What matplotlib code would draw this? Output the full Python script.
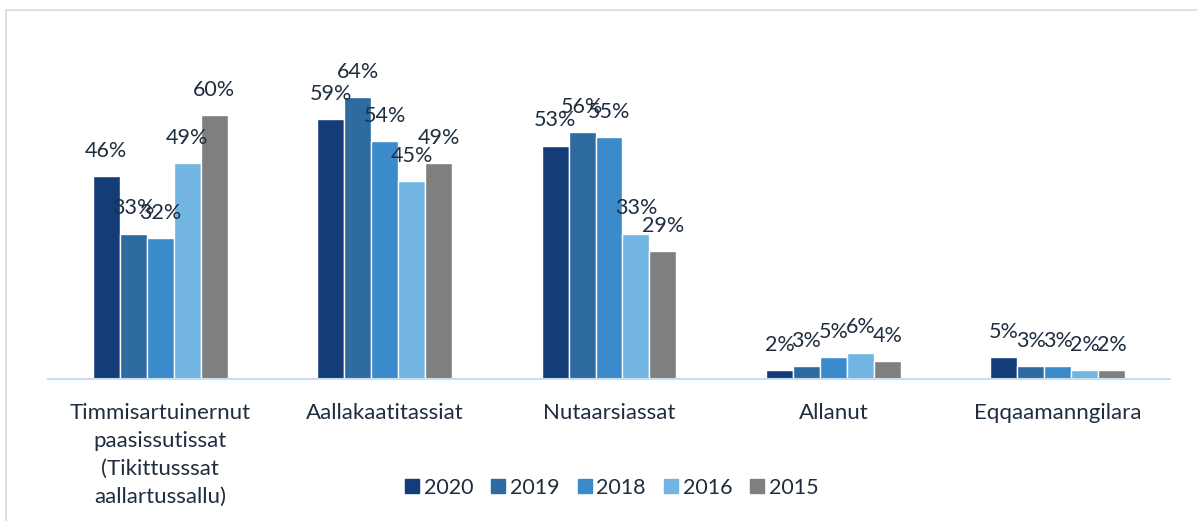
import matplotlib.pyplot as plt
import numpy as np
from matplotlib.lines import Line2D
from matplotlib.patches import Rectangle

# data
categories = ['Timmisartuinernut\npaasissutissat\n(Tikittusssat\naallartussallu)',
              'Aallakaatitassiat', 'Nutaarsiassat', 'Allanut', 'Eqqaamanngilara']
years = ['2020', '2019', '2018', '2016', '2015']
v2020 = [46, 59, 53, 2, 5]
v2019 = [33, 64, 56, 3, 3]
v2018 = [32, 54, 55, 5, 3]
v2016 = [49, 45, 33, 6, 2]
v2015 = [60, 49, 29, 4, 2]
series = [v2020, v2019, v2018, v2016, v2015]
colors = ['#143c78', '#2e6ba1', '#3b8bcc', '#72b4e2', '#7f7f7f']
txt = '#1f2d3f'

plt.rcParams['font.family'] = ['Lato', 'DejaVu Sans']

fig = plt.figure(figsize=(11.97, 5.21), dpi=100)
# light frame around the chart
fig.patches.append(Rectangle((6/1197, -0.1), 1.2, 1.1 - 10/521, transform=fig.transFigure,
                             fill=False, edgecolor='#d9d9d9', linewidth=1.2))

ax = fig.add_axes([48/1197, 1 - 379/521, 1122/1197, 339/521])

x = np.arange(len(categories))
pitch = 0.12
for i, vals in enumerate(series):
    pos = x + (i - 2) * pitch
    ax.bar(pos, vals, width=pitch, color=colors[i], edgecolor='white', linewidth=1.0)
    for p, v in zip(pos, vals):
        ax.annotate(f'{v}%', (p, v), xytext=(0, 11), textcoords='offset points',
                    ha='center', va='bottom', fontsize=15.5, color=txt)

ax.set_xlim(-0.5, 4.5)
ax.set_ylim(0, 77)
ax.set_yticks([])
ax.set_xticks(x)
ax.set_xticklabels(categories, fontsize=16, color=txt)
for t in ax.get_xticklabels():
    t.set_linespacing(1.5)
ax.tick_params(axis='x', length=0, pad=17)
for s in ['top', 'left', 'right']:
    ax.spines[s].set_visible(False)
ax.spines['bottom'].set_color('#c9dff0')
ax.spines['bottom'].set_linewidth(1.5)

handles = [Line2D([], [], marker='s', linestyle='none', markersize=10,
                  markerfacecolor=c, markeredgecolor=c) for c in colors]
fig.legend(handles, years, loc='center', bbox_to_anchor=(611/1197, 1 - 488/521),
           ncol=5, frameon=False, fontsize=15.5, labelcolor=txt,
           handletextpad=0.15, columnspacing=0.75, handlelength=0.8)

fig.savefig('out.png', dpi=100)
